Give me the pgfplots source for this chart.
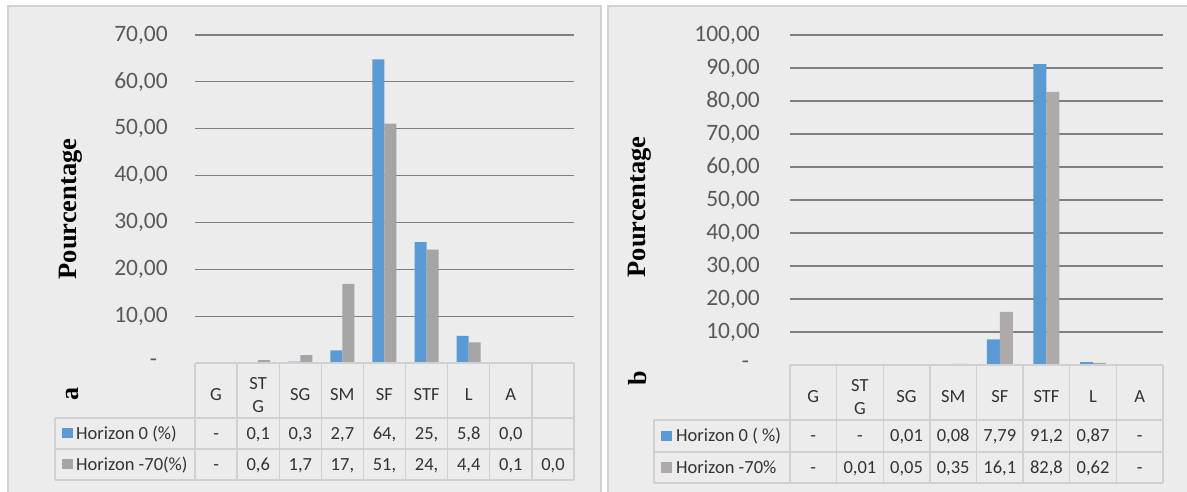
\documentclass[border=0pt]{standalone}
\usepackage{pgfplots}
\pgfplotsset{compat=1.18}
\usepackage{fontspec}
\setmainfont{Carlito}
\newfontfamily\tnr{Liberation Serif}
\definecolor{bg}{HTML}{ECECEC}
\definecolor{frame}{HTML}{D2D2D2}
\definecolor{tbl}{HTML}{D0D0D0}
\definecolor{grd}{HTML}{7F7F7F}
\definecolor{blu}{HTML}{5B9BD5}
\definecolor{gry}{HTML}{A5A5A5}
\definecolor{gryb}{HTML}{AEAAAA}
\definecolor{tickc}{HTML}{595959}
\definecolor{txt}{HTML}{333333}
\newcommand{\zdash}{\raisebox{-3pt}{\makebox[18pt][l]{-}}}
\tikzset{tt/.style={font=\fontsize{18.5}{21}\selectfont, text=txt, anchor=base, inner sep=0pt}}
\pgfplotsset{common/.style={
  scale only axis, axis line style={draw=none}, major tick style={draw=none},
  yticklabel style={font=\fontsize{23.5}{25}\selectfont, text=tickc, inner sep=0pt, anchor=east},
  xticklabel style={font=\fontsize{18.5}{23}\selectfont, text=txt, align=center, anchor=center, yshift=-27.5pt},
  ymajorgrids, grid style={grd, line width=1.2pt},
  ybar=0pt, clip=false, enlargelimits=false}}
\begin{document}
\begin{tikzpicture}[x=1pt,y=1pt]
\useasboundingbox (0,0) rectangle (1187,492);
\fill[white] (0,0) rectangle (1187,492);
\filldraw[fill=bg,draw=frame,line width=1.5pt] (8,-2) rectangle (601,486);
\filldraw[fill=bg,draw=frame,line width=1.5pt] (608,-2) rectangle (1192,486);

% ---------------- left chart (a)
\begin{axis}[common, at={(195pt,129pt)}, anchor=south west, width=379pt, height=328pt,
  xmin=-0.5, xmax=8.5, ymin=0, ymax=70,
  ytick={0,10,...,70},
  yticklabels={{\zdash},{10,00},{20,00},{30,00},{40,00},{50,00},{60,00},{70,00}},
  yticklabel style={xshift=-27pt},
  xtick={0,...,8}, xticklabels={G,{ST\\G},SG,SM,SF,STF,L,A,{}},
  bar width=12pt]
\addplot[fill=blu,draw=none] coordinates {(1,0.1) (2,0.3) (3,2.7) (4,64.8) (5,25.8) (6,5.8) (7,0.04)};
\addplot[fill=gry,draw=none] coordinates {(1,0.6) (2,1.7) (3,16.9) (4,51.1) (5,24.2) (6,4.4) (7,0.1) (8,0.03)};
\end{axis}

% ---------------- right chart (b)
\begin{axis}[common, at={(790pt,127pt)}, anchor=south west, width=373pt, height=330pt,
  xmin=-0.5, xmax=7.5, ymin=0, ymax=100,
  ytick={0,10,...,100},
  yticklabels={{\zdash},{10,00},{20,00},{30,00},{40,00},{50,00},{60,00},{70,00},{80,00},{90,00},{100,00}},
  yticklabel style={xshift=-30pt},
  xtick={0,...,7}, xticklabels={G,{ST\\G},SG,SM,SF,STF,L,A},
  bar width=13pt]
\addplot[fill=blu,draw=none] coordinates {(2,0.01) (3,0.08) (4,7.79) (5,91.2) (6,0.87)};
\addplot[fill=gryb,draw=none] coordinates {(1,0.01) (2,0.05) (3,0.35) (4,16.1) (5,82.8) (6,0.62)};
\end{axis}

% ---------------- left table
\begin{scope}[draw=tbl, line width=1.4pt]
\draw (195,129) -- (574,129);
\draw (55,74) -- (574,74);
\draw (55,43) -- (574,43);
\draw (55,12) -- (574,12);
\draw (55,74) -- (55,12);
\foreach \k in {0,...,9} \draw (195+42.11*\k,129) -- (195+42.11*\k,12);
\end{scope}
\fill[blu] (62,53.5) rectangle (72.5,64);
\fill[gry] (62,22.5) rectangle (72.5,33);
\node[tt, anchor=base west] at (76,52.5) {Horizon 0 (\%)};
\node[tt, anchor=base west] at (76,21.5) {Horizon -70(\%)};
\foreach \v [count=\i from 0] in {-,{0,1},{0,3},{2,7},{64,},{25,},{5,8},{0,0},{}}
  \node[tt] at (216.1+42.11*\i,52.5) {\v};
\foreach \v [count=\i from 0] in {-,{0,6},{1,7},{17,},{51,},{24,},{4,4},{0,1},{0,0}}
  \node[tt] at (216.1+42.11*\i,21.5) {\v};

% ---------------- right table
\begin{scope}[draw=tbl, line width=1.4pt]
\draw (790,127) -- (1163,127);
\draw (654,72) -- (1163,72);
\draw (654,40) -- (1163,40);
\draw (654,9) -- (1163,9);
\draw (654,72) -- (654,9);
\foreach \k in {0,...,8} \draw (790+46.625*\k,127) -- (790+46.625*\k,9);
\end{scope}
\fill[blu] (661,50.5) rectangle (671.5,61);
\fill[gryb] (661,19) rectangle (671.5,29.5);
\node[tt, anchor=base west] at (676,50) {Horizon 0 ( \%)};
\node[tt, anchor=base west] at (676,18.5) {Horizon -70\%};
\foreach \v [count=\i from 0] in {-,-,{0,01},{0,08},{7,79},{91,2},{0,87},-}
  \node[tt] at (813.3+46.625*\i,50) {\v};
\foreach \v [count=\i from 0] in {-,{0,01},{0,05},{0,35},{16,1},{82,8},{0,62},-}
  \node[tt] at (813.3+46.625*\i,18.5) {\v};

% ---------------- axis titles and panel letters
\node[rotate=90, font=\tnr\bfseries\fontsize{26.5}{28}\selectfont] at (71,283) {Pourcentage};
\node[rotate=90, font=\tnr\bfseries\fontsize{26.5}{28}\selectfont] at (640,285) {Pourcentage};
\node[rotate=90, font=\tnr\bfseries\fontsize{26}{28}\selectfont] at (73,98) {a};
\node[rotate=90, font=\tnr\bfseries\fontsize{26}{28}\selectfont] at (638,114) {b};
\end{tikzpicture}
\end{document}
